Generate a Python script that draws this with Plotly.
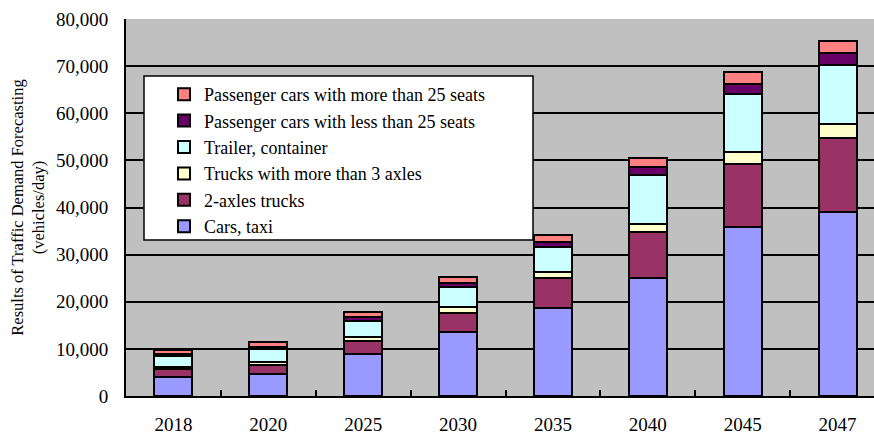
import plotly.graph_objects as go

years = ["2018", "2020", "2025", "2030", "2035", "2040", "2045", "2047"]
cars_taxi = [3950, 4600, 8850, 13600, 18600, 25100, 35950, 39150]
two_axle_trucks = [1700, 2000, 2900, 4000, 6500, 9800, 13300, 15550]
trucks_3_axles = [400, 600, 850, 1250, 1200, 1550, 2600, 3050]
trailer_container = [2400, 2700, 3400, 4250, 5400, 10350, 12250, 12550]
pc_less_25 = [450, 550, 850, 850, 1050, 1900, 2200, 2500]
pc_more_25 = [850, 1050, 1050, 1300, 1400, 1800, 2550, 2600]

series = [
    ("Cars, taxi", cars_taxi, "#9999FF"),
    ("2-axles trucks", two_axle_trucks, "#993366"),
    ("Trucks with more than 3 axles", trucks_3_axles, "#FFFFCC"),
    ("Trailer, container", trailer_container, "#CCFFFF"),
    ("Passenger cars with less than 25 seats", pc_less_25, "#660066"),
    ("Passenger cars with more than 25 seats", pc_more_25, "#FF8080"),
]

FONT = "Liberation Serif, Times New Roman, serif"

fig = go.Figure()
for name, vals, col in series:
    fig.add_trace(go.Bar(
        x=years, y=vals, name=name, width=0.4,
        marker=dict(color=col, line=dict(color="black", width=2)),
    ))

W, H = 874, 434
L, T, B, R = 126, 19, 38, 0
pw, ph = W - L - R, H - T - B

def px_x(x):
    return (x - L) / pw

def px_y(y):
    return (H - B - y) / ph

fig.add_shape(type="rect", xref="paper", yref="paper",
              x0=px_x(144), x1=px_x(533), y0=px_y(240), y1=px_y(76),
              fillcolor="white", line=dict(color="black", width=1.5), layer="above")

fig.update_layout(
    width=W, height=H,
    margin=dict(l=L, r=R, t=T, b=B, pad=0),
    barmode="stack",
    paper_bgcolor="white",
    plot_bgcolor="#C0C0C0",
    font=dict(family=FONT, color="black", size=19),
    legend=dict(
        traceorder="reversed",
        x=px_x(164), y=px_y(76), xanchor="left", yanchor="top",
        bgcolor="rgba(0,0,0,0)", borderwidth=0,
        font=dict(family=FONT, size=18, color="black"),
        itemwidth=30,
    ),
    xaxis=dict(
        type="category", range=[-0.5, 7.5 - 11 / 94.9],
        showline=True, linecolor="black", linewidth=2,
        ticks="inside", tickson="boundaries", ticklen=6, tickcolor="black", tickwidth=2,
        showgrid=False, ticklabelstandoff=10,
        tickfont=dict(family=FONT, size=19, color="black"),
    ),
    yaxis=dict(
        range=[0, 80000], dtick=10000, tickformat=",",
        showline=True, linecolor="black", linewidth=2,
        gridcolor="black", gridwidth=1.5,
        ticks="", ticklabelstandoff=12,
        tickfont=dict(family=FONT, size=19, color="black"),
        title=dict(text="Results of Traffic Demand Forecasting<br>(vehicles/day)",
                   font=dict(family=FONT, size=16.5, color="black"), standoff=7),
        zeroline=False,
    ),
)

fig.write_html("out.html")
